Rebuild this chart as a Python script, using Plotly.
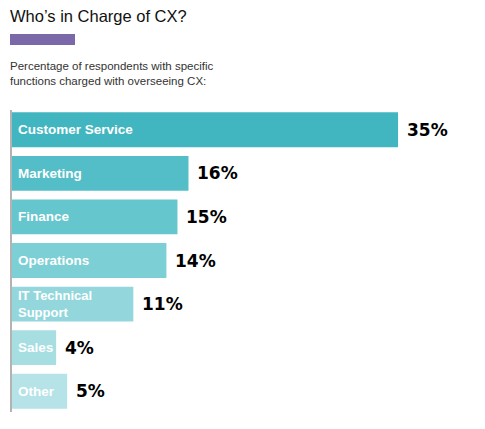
import plotly.graph_objects as go

categories = ["Customer Service", "Marketing", "Finance", "Operations",
              "IT Technical<br>Support", "Sales", "Other"]
values = [35, 16, 15, 14, 11, 4, 5]
value_labels = ["35%", "16%", "15%", "14%", "11%", "4%", "5%"]
bar_colors = ["#42B6C0", "#53BEC7", "#66C6CD", "#7CCFD4", "#93D7DC", "#A6DEE2", "#B5E3E7"]

W, H = 485, 429
ML, MR, MT, MB = 12, 10, 108, 16
PW = W - ML - MR
PH = H - MT - MB

def px_x(px):
    return (px - ML) / PW

def px_y(py):
    return (H - MB - py) / PH

ypos = list(range(len(categories)))

fig = go.Figure()
fig.add_trace(go.Bar(
    x=values, y=ypos, orientation="h",
    marker=dict(color=bar_colors, line=dict(width=0)),
    width=0.8, hoverinfo="skip",
))

annotations = []
for i, (cat, v, lab) in enumerate(zip(categories, values, value_labels)):
    annotations.append(dict(
        x=0, y=i, xref="x", yref="y", text=cat, showarrow=False,
        xanchor="left", yanchor="middle", xshift=4, align="left",
        font=dict(family="Liberation Sans", size=13 if "<br>" in cat else 13.5,
                  color="white", weight="bold"),
    ))
    annotations.append(dict(
        x=v, y=i, xref="x", yref="y", text=lab, showarrow=False,
        xanchor="left", yanchor="middle", xshift=7, yshift=0,
        font=dict(family="DejaVu Sans", size=17, color="#000000", weight="bold"),
    ))

annotations.append(dict(
    x=px_x(8), y=px_y(16), xref="paper", yref="paper", text="Who\u2019s in Charge of CX?",
    showarrow=False, xanchor="left", yanchor="middle",
    font=dict(family="Liberation Sans", size=16.5, color="#111111"),
))
annotations.append(dict(
    x=px_x(8), y=px_y(73), xref="paper", yref="paper",
    text="Percentage of respondents with specific<br>functions charged with overseeing CX:",
    showarrow=False, xanchor="left", yanchor="middle", align="left",
    font=dict(family="Liberation Sans", size=11.5, color="#333333"),
))

shapes = [
    dict(type="rect", xref="paper", yref="paper", x0=px_x(10), x1=px_x(75),
         y0=px_y(45), y1=px_y(34), fillcolor="#7A68A8", line=dict(width=0)),
    dict(type="line", xref="paper", yref="paper", x0=px_x(11), x1=px_x(11),
         y0=px_y(110), y1=px_y(412), line=dict(color="#B3B3B3", width=2)),
]

fig.update_layout(
    width=W, height=H,
    margin=dict(l=ML, r=MR, t=MT, b=MB),
    paper_bgcolor="white", plot_bgcolor="white",
    showlegend=False,
    xaxis=dict(range=[0, PW / 11.03], visible=False, fixedrange=True),
    yaxis=dict(range=[len(categories) - 0.5, -0.5], visible=False, fixedrange=True),
    annotations=annotations, shapes=shapes,
)

fig.write_html("out.html", config={"displayModeBar": False},
               post_script="document.body.style.margin='0px';")
